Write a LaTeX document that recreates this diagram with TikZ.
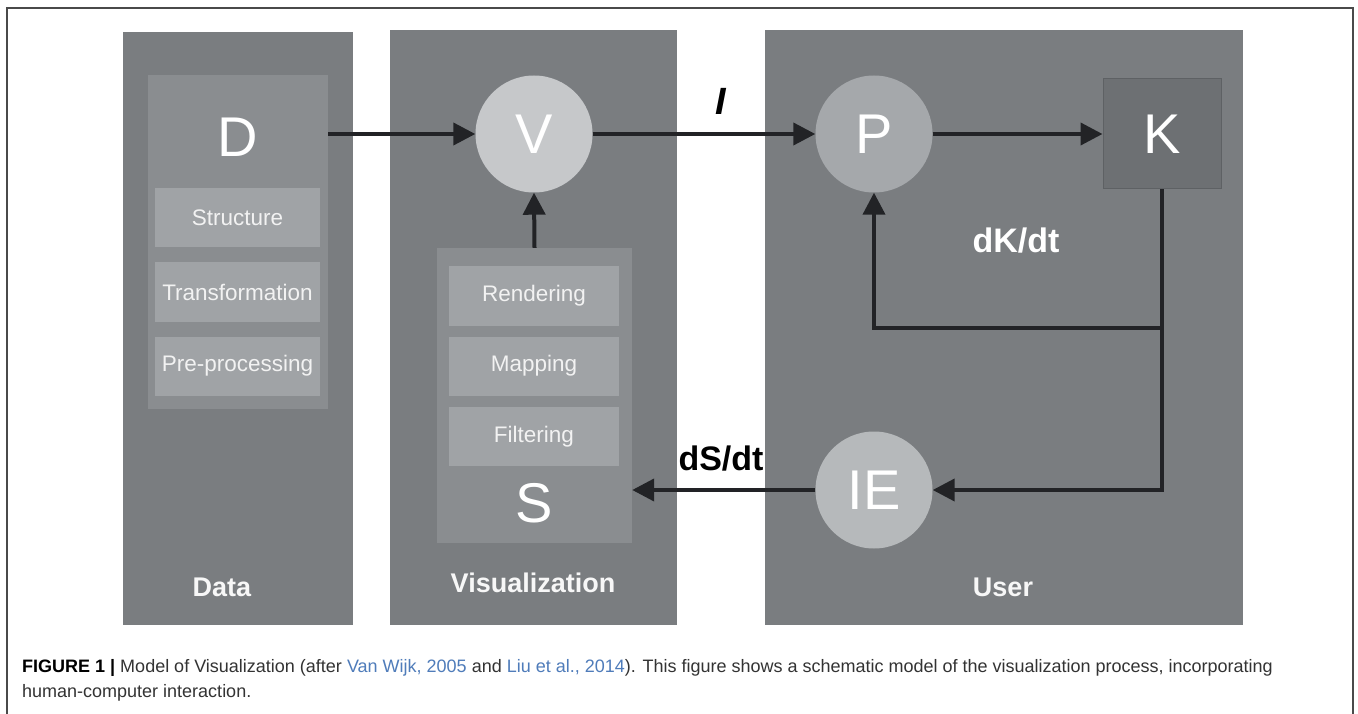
\documentclass[tikz,border=0pt]{standalone}
\usepackage{fontspec}
\setmainfont{Liberation Sans}
\usetikzlibrary{arrows.meta}

\definecolor{panelgray}{HTML}{7A7D80}
\definecolor{innergray}{HTML}{8A8D90}
\definecolor{stepgray}{HTML}{A0A3A6}
\definecolor{vgray}{HTML}{C6C8CA}
\definecolor{pgray}{HTML}{A5A8AB}
\definecolor{iegray}{HTML}{B6B9BB}
\definecolor{kgray}{HTML}{6D7073}
\definecolor{kborder}{HTML}{5E6164}
\definecolor{arrowc}{HTML}{222326}
\definecolor{framec}{HTML}{4A4A4A}
\definecolor{linkc}{HTML}{4F7CBA}
\definecolor{captc}{HTML}{333333}

\newcommand\fsz[1]{\fontsize{#1}{#1}\selectfont}

\tikzset{
  panel/.style={fill=panelgray, inner sep=0pt, minimum width=#1},
  holder/.style={fill=innergray, inner sep=0pt},
  stepbox/.style={fill=stepgray, inner sep=0pt, minimum width=#1, minimum height=59pt,
                  text=white!95!black, font=\fsz{22.5}},
  bubble/.style={circle, fill=#1, inner sep=0pt, minimum size=117pt,
                 text=white, font=\fsz{56}},
  biglabel/.style={text=white, font=\fsz{56}, inner sep=0pt},
  paneltitle/.style={text=white!97!black, font=\bfseries\fsz{27}, inner sep=0pt},
  conn/.style={draw=arrowc, line width=4pt, -{Triangle[length=22pt,width=22pt]}},
  rate/.style={font=\bfseries\fsz{34}, inner sep=0pt},
  caption/.style={anchor=base west, inner sep=0pt, text=captc, font=\fsz{18}},
}

\begin{document}
\begin{tikzpicture}[x=1pt, y=-1pt]
  \useasboundingbox (0,0) rectangle (1358,714);
  \fill[white] (0,0) rectangle (1358,714);
  % open frame around figure and caption
  \draw[framec, line width=1.5pt] (7,714) -- (7,8) -- (1353,8) -- (1353,714);

  % three columns
  \node[panel=230pt, minimum height=593pt] (datap) at (238,328.5) {};
  \node[panel=287pt, minimum height=595pt] (visp)  at (533.5,327.5) {};
  \node[panel=478pt, minimum height=595pt] (userp) at (1004,327.5) {};

  % data column
  \node[holder, minimum width=180pt, minimum height=334pt] (Dbox) at (238,242) {};
  \node[biglabel] (Dlab) at (238,137) {D};
  \node[stepbox=165pt] (structure) at (237.5,217.5) {Structure};
  \node[stepbox=165pt] (transform) at (237.5,292) {Transformation};
  \node[stepbox=165pt] (preproc)   at (237.5,366) {Pre-processing};
  \node[paneltitle] (datat) at (222,587) {Data};

  % visualization column
  \node[holder, minimum width=195pt, minimum height=295pt] (Sbox) at (534.5,395.5) {};
  \node[stepbox=170pt] (render) at (534,296) {Rendering};
  \node[stepbox=170pt] (mapping) at (534,366) {Mapping};
  \node[stepbox=170pt] (filter) at (534,436.5) {Filtering};
  \node[biglabel] (Slab) at (534,503) {S};
  \node[paneltitle] (vist) at (533,583) {Visualization};
  \node[bubble=vgray] (V) at (534,134) {V};

  % user column
  \node[bubble=pgray] (P) at (874,134) {P};
  \node[fill=kgray, draw=kborder, line width=1pt, minimum width=118pt, minimum height=110pt,
        inner sep=0pt, text=white, font=\fsz{56}] (K) at (1162,134) {K};
  \node[bubble=iegray] (IE) at (874,490) {IE};
  \node[rate, text=white] (dkdt) at (1016,241) {dK/dt};
  \node[paneltitle] (usert) at (1003,587) {User};

  % flow arrows
  \draw[conn] (Dbox.east |- V) -- (V);
  \draw[conn] (Sbox.north) -- (V.south);
  \draw[conn] (V.east) -- (P.west);
  \draw[conn] (P.east) -- (K.west);
  \coordinate (fbrow) at (0,328);
  \draw[conn] (K.south) -- (K.south |- fbrow) -| (P.south);
  \draw[conn] (K.south |- fbrow) |- (IE.east);
  \draw[conn] (IE.west) -- (Sbox.east |- IE.west);

  \node[font=\bfseries\itshape\fsz{38}, inner sep=0pt] (Ilab) at (721,101) {I};
  \node[rate, text=black] (dsdt) at (721,459) {dS/dt};

  % caption
  \node[caption] (cap1) at (22,672) {\textbf{\color{black}FIGURE 1 |} Model of Visualization (after \textcolor{linkc}{Van Wijk, 2005} and \textcolor{linkc}{Liu et al., 2014}). This figure shows a schematic model of the visualization process, incorporating};
  \node[caption] (cap2) at (22,697) {human-computer interaction.};
\end{tikzpicture}
\end{document}
